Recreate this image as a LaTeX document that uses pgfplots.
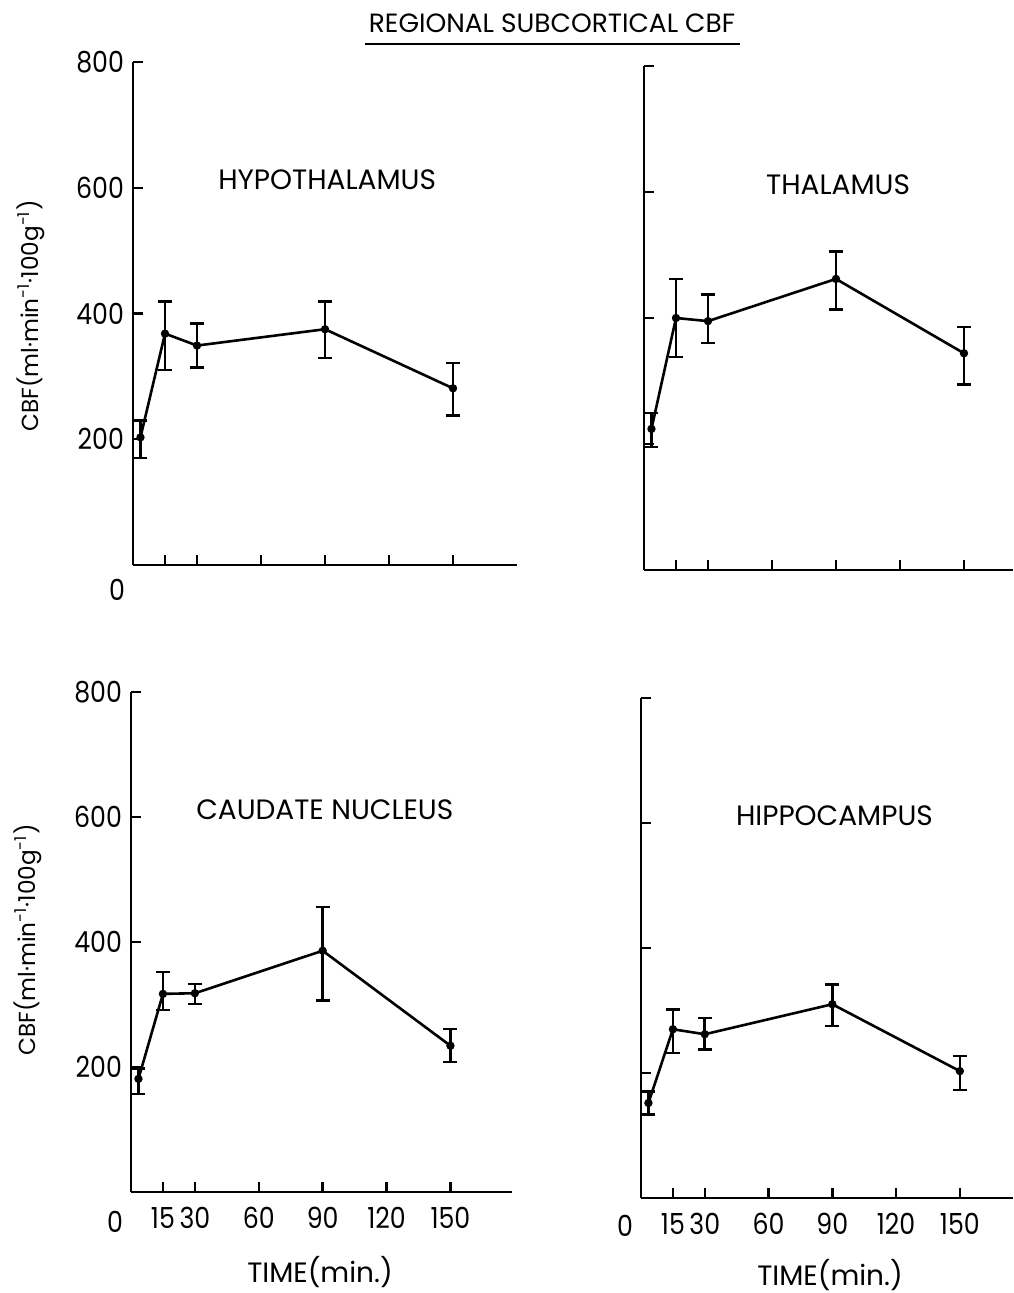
\documentclass[border=0pt]{standalone}
\usepackage{fontspec}
\setmainfont{Poppins}
\newfontfamily\tickfont{Poppins}[FakeStretch=0.87]
\usepackage{pgfplots}
\pgfplotsset{compat=1.18}
\begin{document}
\begin{tikzpicture}
\path[use as bounding box] (0,0) rectangle (506.5pt,646.5pt);
\pgfplotsset{
  panel/.style={
    scale only axis, clip=false,
    axis lines*=left,
    axis line style={line width=1.4pt,-},
    every tick/.style={black,line width=1.2pt},
    tick align=inside, major tick length=5pt,
    xmin=0, ymin=0, ymax=800,
    ytick={200,400,600,800},
    xtick={15,30,60,90,120,150},
    /pgf/number format/assume math mode=true,
    ticklabel style={font=\tickfont\fontsize{14.5}{16}\selectfont},
    yticklabel style={xshift=-1pt},
    xticklabel style={yshift=-4pt},
  },
  dat/.style={black, line width=1.3pt, mark=*, mark size=1.4pt,
    error bars/.cd, y dir=both, y explicit,
    error bar style={line width=1.3pt},
    error mark options={rotate=90, mark size=3.5pt, line width=1.3pt}},
}
\newcommand{\ptitle}[1]{\node[font=\fontsize{14}{16}\selectfont] at (axis cs:91,612) {#1};}
% Top-left: Hypothalamus
\begin{axis}[panel, at={(66.5pt,364pt)}, anchor=south west,
  width=192pt, height=251.5pt, xmax=180, xticklabels={}]
\addplot[dat] coordinates {
 (3.5,203) += (0,27) -= (0,33)
 (15,368) += (0,51) -= (0,58)
 (30,349) += (0,35) -= (0,35)
 (90,375) += (0,44) -= (0,46)
 (150,281) += (0,40) -= (0,43)
};
\ptitle{HYPOTHALAMUS}
\node[font=\tickfont\fontsize{14.5}{16}\selectfont] at (axis cs:0,0) [xshift=-8pt,yshift=-12.5pt] {0};
\end{axis}
% Top-right: Thalamus
\begin{axis}[panel, at={(322pt,361.5pt)}, anchor=south west,
  width=184.5pt, height=252pt, xmax=173, xticklabels={}, yticklabels={}]
\addplot[dat] coordinates {
 (3.5,224) += (0,25) -= (0,29)
 (15,400) += (0,62) -= (0,62)
 (30,395) += (0,42) -= (0,35)
 (90,462) += (0,44) -= (0,49)
 (150,344) += (0,42) -= (0,50)
};
\ptitle{THALAMUS}
\end{axis}
% Bottom-left: Caudate nucleus
\begin{axis}[panel, at={(65.5pt,50.5pt)}, anchor=south west,
  width=190.6pt, height=250pt, xmax=179]
\addplot[dat] coordinates {
 (3.5,181) += (0,17) -= (0,24)
 (15,317) += (0,35) -= (0,26)
 (30,318) += (0,15) -= (0,17)
 (90,386) += (0,70) -= (0,80)
 (150,234) += (0,27) -= (0,26)
};
\ptitle{CAUDATE NUCLEUS}
\node[font=\tickfont\fontsize{14.5}{16}\selectfont] at (axis cs:0,0) [xshift=-8pt,yshift=-15pt] {0};
\end{axis}
% Bottom-right: Hippocampus
\begin{axis}[panel, at={(320.5pt,47.5pt)}, anchor=south west,
  width=186pt, height=250pt, xmax=175, yticklabels={}]
\addplot[dat] coordinates {
 (3.5,152) += (0,18) -= (0,18)
 (15,270) += (0,32) -= (0,38)
 (30,262) += (0,26) -= (0,24)
 (90,310) += (0,32) -= (0,35)
 (150,203) += (0,24) -= (0,30)
};
\ptitle{HIPPOCAMPUS}
\node[font=\tickfont\fontsize{14.5}{16}\selectfont] at (axis cs:0,0) [xshift=-8pt,yshift=-14pt] {0};
\end{axis}
% Main title
\node[font=\fontsize{13.2}{15}\selectfont, inner sep=0pt, anchor=base] at (276pt,630pt) {REGIONAL SUBCORTICAL CBF};
\draw[line width=0.9pt] (182.5pt,624.5pt) -- (370pt,624.5pt);
% y labels
\node[font=\fontsize{11.6}{13}\selectfont, rotate=90] at (15.5pt,488.5pt) {CBF(ml·min\textsuperscript{-1}·100g\textsuperscript{-1})};
\node[font=\fontsize{11.6}{13}\selectfont, rotate=90] at (14pt,176.5pt) {CBF(ml·min\textsuperscript{-1}·100g\textsuperscript{-1})};
% x labels
\node[font=\fontsize{14}{16}\selectfont] at (160pt,10.5pt) {TIME(min.)};
\node[font=\fontsize{14}{16}\selectfont] at (415pt,9pt) {TIME(min.)};
\end{tikzpicture}
\end{document}
